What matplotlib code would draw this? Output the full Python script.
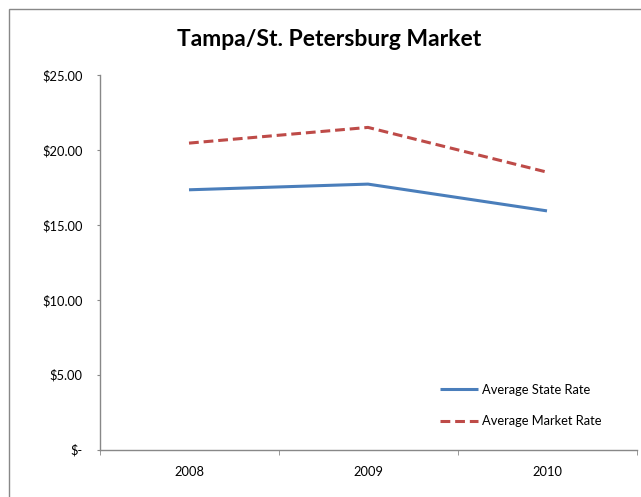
import matplotlib
matplotlib.use('Agg')
from matplotlib import pyplot as plt
from matplotlib.patches import Rectangle

years = ['2008', '2009', '2010']
state_rate = [17.36, 17.74, 15.95]
market_rate = [20.48, 21.53, 18.54]
y_ticks = [0, 5, 10, 15, 20, 25]
y_labels = ['$-', '$5.00', '$10.00', '$15.00', '$20.00', '$25.00']

plt.rcParams['font.family'] = ['Lato', 'DejaVu Sans']

W, H = 641, 497
fig = plt.figure(figsize=(W / 100, H / 100), dpi=100)

# chart frame (right and bottom edges fall outside the picture)
fig.patches.append(Rectangle((8.5 / W, -0.1), 2, (H - 8.5) / H + 0.1, transform=fig.transFigure,
                             fill=False, edgecolor='#888888', linewidth=1))

ax = fig.add_axes([99.5 / W, 1 - 449.5 / H, (636.5 - 99.5) / W, (449.5 - 75.5) / H])
x = list(range(len(years)))
ax.plot(x, state_rate, color='#4A7EBB', linewidth=2.2, solid_capstyle='butt', label='Average State Rate')
ax.plot(x, market_rate, color='#BE4B48', linewidth=2.2, dashes=(3.2, 1.6), label='Average Market Rate')

ax.set_xlim(-0.5, 2.5)
ax.set_ylim(0, 25)
ax.set_yticks(y_ticks)
ax.set_yticklabels(y_labels, fontsize=9.3)
ax.set_xticks(x)
ax.set_xticklabels(years, fontsize=9.3)
ax.tick_params(axis='x', length=0, pad=12)
ax.set_xticks([-0.5, 0.5, 1.5, 2.5], minor=True)
ax.tick_params(axis='x', which='minor', length=3.5, color='#888888', direction='out')
ax.tick_params(axis='y', length=2.5, color='#888888', pad=9.5)
for s in ['top', 'right']:
    ax.spines[s].set_visible(False)
for s in ['left', 'bottom']:
    ax.spines[s].set_color('#888888')
    ax.spines[s].set_linewidth(1)

fig.text(329 / W, 1 - 39 / H, 'Tampa/St. Petersburg Market', ha='center', va='center',
         fontsize=16.5, fontweight='bold')

ax.legend(loc='lower left', bbox_to_anchor=((428 - 99.5) / (636.5 - 99.5), (449.5 - 439) / 374),
          frameon=False, fontsize=9.3, handlelength=3.0, handletextpad=0.25, labelspacing=1.5)

fig.savefig('out.png', dpi=100)
